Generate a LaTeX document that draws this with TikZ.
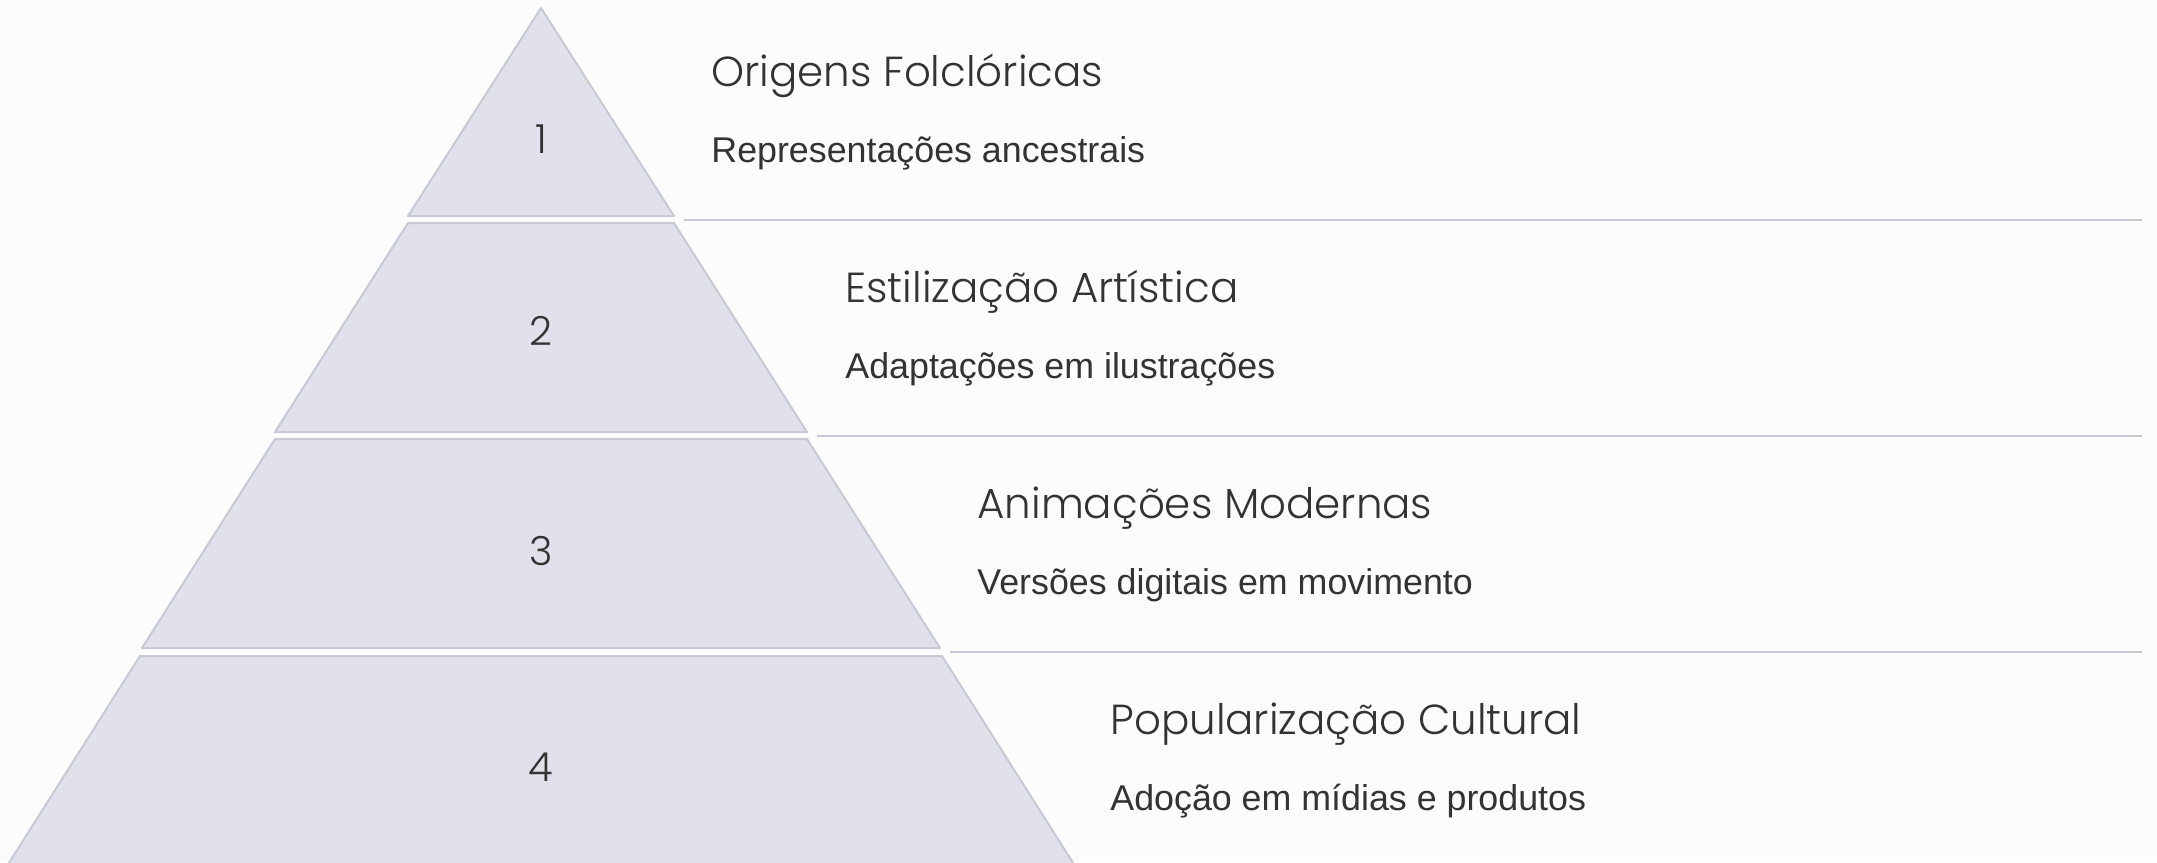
\documentclass[tikz,border=0pt]{standalone}
\usepackage{fontspec}
\setmainfont{Liberation Sans}
\newfontfamily\headfont{Poppins Light}
\usetikzlibrary{positioning}
\definecolor{pagebg}{HTML}{FCFCFD}
\definecolor{layerfill}{HTML}{E0E1EA}
\definecolor{layerline}{HTML}{C8C9D3}
\definecolor{textgray}{HTML}{333333}
\tikzstyle{layer} = [fill=layerfill, draw=layerline, line width=1pt, line join=round]
\tikzstyle{divider} = [draw=layerline, line width=1.3pt]
\tikzstyle{levelnum} = [text=textgray, inner sep=0, font=\headfont\fontsize{20}{24}\selectfont]
\tikzstyle{heading} = [anchor=west, inner sep=0, text=textgray, font=\headfont\fontsize{21}{25}\selectfont]
\tikzstyle{caption} = [anchor=west, inner sep=0, text=textgray, font=\fontsize{17.9}{21}\selectfont]

\begin{document}
\begin{tikzpicture}[x=0.5pt, y=-0.5pt]
\fill[pagebg] (0,0) rectangle (2157,862);
\useasboundingbox (0,0) rectangle (2157,862);

% pyramid layers
\draw[layer] (541,8) -- (674,216) -- (408,216) -- cycle;
\draw[layer] (408,223) -- (674,223) -- (807,432) -- (275,432) -- cycle;
\draw[layer] (275,439) -- (807,439) -- (940,648) -- (142,648) -- cycle;
\draw[layer] (140,656) -- (942,656) -- (1075,866) -- (7,866) -- cycle;

\node[levelnum] (n1) at (541,139) {1};
\node[levelnum] (n2) at (541,331) {2};
\node[levelnum] (n3) at (541,551) {3};
\node[levelnum] (n4) at (541,767) {4};

% dividers
\coordinate (r1a) at (684,220);  \coordinate (r1b) at (2142,220);
\coordinate (r2a) at (817,436);  \coordinate (r2b) at (2142,436);
\coordinate (r3a) at (950,652);  \coordinate (r3b) at (2142,652);
\draw[divider] (r1a) -- (r1b);
\draw[divider] (r2a) -- (r2b);
\draw[divider] (r3a) -- (r3b);

% texts
\node[heading] (t1) at (711,76) {Origens Folclóricas};
\node[caption] (d1) at ([yshift=-38.5pt]t1.west) {Representações ancestrais};
\node[heading] (t2) at (845,292) {Estilização Artística};
\node[caption] (d2) at ([yshift=-38.5pt]t2.west) {Adaptações em ilustrações};
\node[heading] (t3) at (977,508) {Animações Modernas};
\node[caption] (d3) at ([yshift=-38.5pt]t3.west) {Versões digitais em movimento};
\node[heading] (t4) at (1110,724) {Popularização Cultural};
\node[caption] (d4) at ([yshift=-38.5pt]t4.west) {Adoção em mídias e produtos};
\end{tikzpicture}
\end{document}
